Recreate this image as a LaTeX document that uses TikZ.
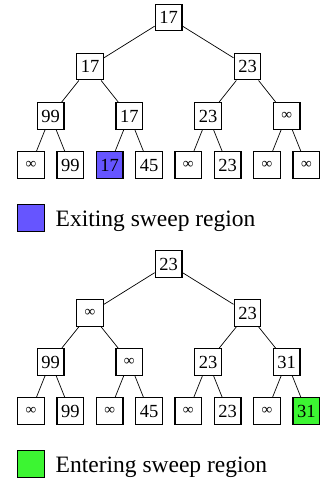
\documentclass[tikz,border=0pt]{standalone}
\usepackage{fontspec}
\setmainfont{Liberation Serif}
\newcommand\inff{{\fontsize{15}{15}\selectfont ∞}}
\definecolor{exitblue}{RGB}{102,85,255}
\definecolor{entergreen}{RGB}{60,245,50}
\tikzset{
  box/.style={draw, line width=1.3pt, minimum width=26.6pt, minimum height=26.6pt, inner sep=0pt, fill=white, font=\fontsize{18.5}{20}\selectfont},
  edge/.style={line width=0.7pt},
  legtext/.style={anchor=base west, inner sep=0pt, font=\fontsize{23.5}{26}\selectfont}
}
\begin{document}
\begin{tikzpicture}[x=1pt,y=-1pt]
\useasboundingbox (0,0) rectangle (320,482);
% ---------- top tree ----------
\node[box] (t0) at (168.6,17.5) {17};
\node[box] (t1) at (90,66.5) {17};
\node[box] (t2) at (247.5,66.5) {23};
\node[box] (t3) at (50.6,116) {99};
\node[box] (t4) at (129.3,116) {17};
\node[box] (t5) at (208,116) {23};
\node[box] (t6) at (286.7,116) {\inff};
\node[box] (t7) at (30.9,165) {\inff};
\node[box] (t8) at (70.3,165) {99};
\node[box,fill=exitblue] (t9) at (109.6,165) {17};
\node[box] (t10) at (149,165) {45};
\node[box] (t11) at (188.3,165) {\inff};
\node[box] (t12) at (227.7,165) {23};
\node[box] (t13) at (267,165) {\inff};
\node[box] (t14) at (306.4,165) {\inff};
\draw[edge] (t0) -- (t1); \draw[edge] (t0) -- (t2);
\draw[edge] (t1) -- (t3); \draw[edge] (t1) -- (t4);
\draw[edge] (t2) -- (t5); \draw[edge] (t2) -- (t6);
\draw[edge] (t3) -- (t7); \draw[edge] (t3) -- (t8);
\draw[edge] (t4) -- (t9); \draw[edge] (t4) -- (t10);
\draw[edge] (t5) -- (t11); \draw[edge] (t5) -- (t12);
\draw[edge] (t6) -- (t13); \draw[edge] (t6) -- (t14);
% legend 1
\node[box,fill=exitblue] (l1) at (31,218) {};
\node[legtext] (l1t) at (55.5,226) {Exiting sweep region};
% ---------- bottom tree ----------
\node[box] (b0) at (168.6,264) {23};
\node[box] (b1) at (90,313) {\inff};
\node[box] (b2) at (247.5,313) {23};
\node[box] (b3) at (50.6,362) {99};
\node[box] (b4) at (129.3,362) {\inff};
\node[box] (b5) at (208,362) {23};
\node[box] (b6) at (286.7,362) {31};
\node[box] (b7) at (30.9,411) {\inff};
\node[box] (b8) at (70.3,411) {99};
\node[box] (b9) at (109.6,411) {\inff};
\node[box] (b10) at (149,411) {45};
\node[box] (b11) at (188.3,411) {\inff};
\node[box] (b12) at (227.7,411) {23};
\node[box] (b13) at (267,411) {\inff};
\node[box,fill=entergreen] (b14) at (306.4,411) {31};
\draw[edge] (b0) -- (b1); \draw[edge] (b0) -- (b2);
\draw[edge] (b1) -- (b3); \draw[edge] (b1) -- (b4);
\draw[edge] (b2) -- (b5); \draw[edge] (b2) -- (b6);
\draw[edge] (b3) -- (b7); \draw[edge] (b3) -- (b8);
\draw[edge] (b4) -- (b9); \draw[edge] (b4) -- (b10);
\draw[edge] (b5) -- (b11); \draw[edge] (b5) -- (b12);
\draw[edge] (b6) -- (b13); \draw[edge] (b6) -- (b14);
% legend 2
\node[box,fill=entergreen] (l2) at (31,464) {};
\node[legtext] (l2t) at (55.5,472) {Entering sweep region};
\end{tikzpicture}
\end{document}
